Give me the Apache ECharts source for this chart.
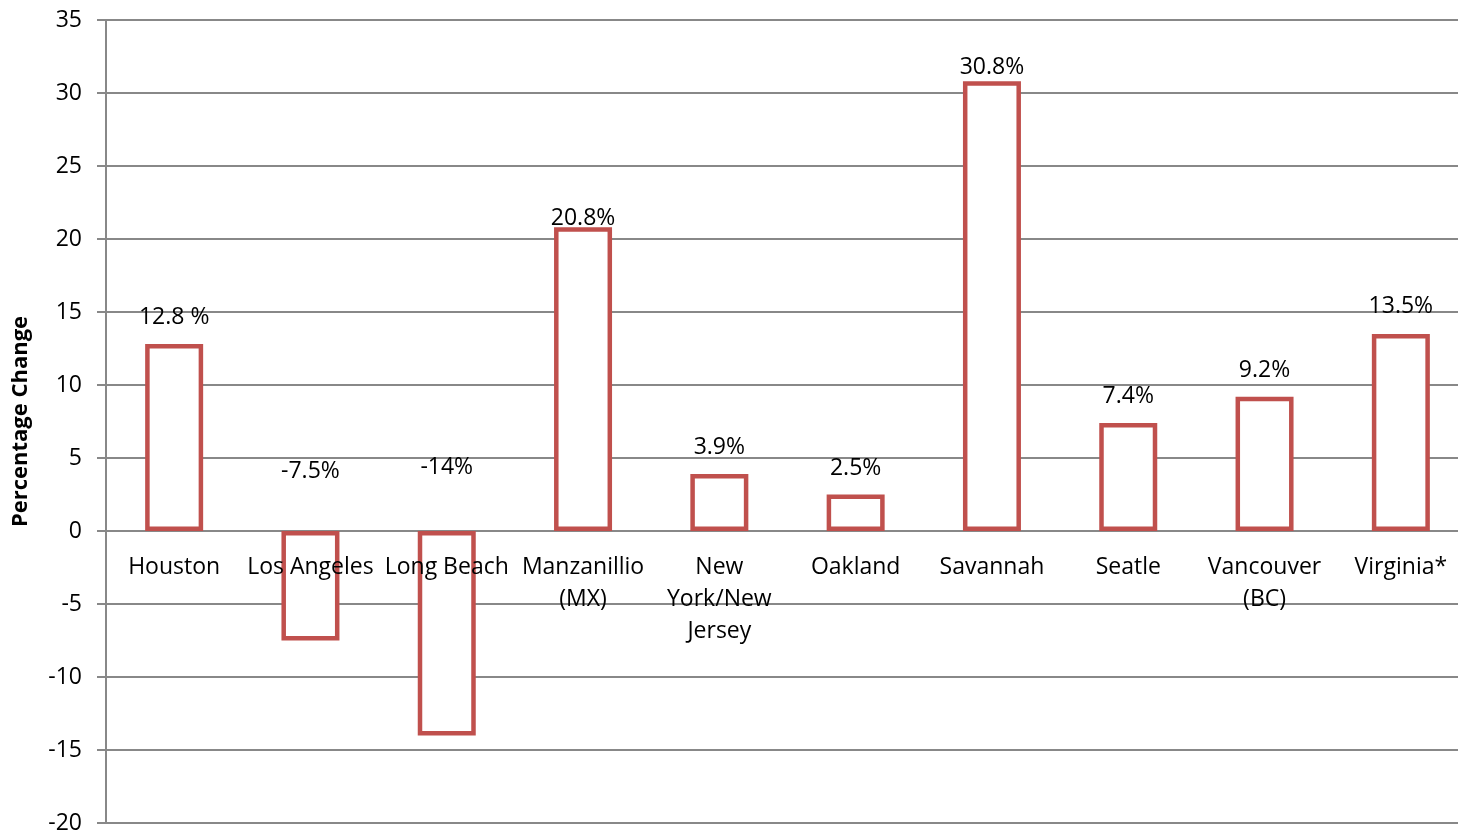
<!DOCTYPE html>
<html><head><meta charset="utf-8">
<script src="https://cdn.jsdelivr.net/npm/echarts@6/dist/echarts.min.js"></script>
<style>html,body{margin:0;padding:0;background:#fff}#c{width:1458px;height:835px}</style>
</head><body><div id="c"></div>
<script>
const categories = ['Houston','Los Angeles','Long Beach','Manzanillio\n(MX)','New\nYork/New\nJersey','Oakland','Savannah','Seatle','Vancouver\n(BC)','Virginia*'];
const values = [12.8, -7.5, -14, 20.8, 3.9, 2.5, 30.8, 7.4, 9.2, 13.5];
const valueLabels = ['12.8 %','-7.5%','-14%','20.8%','3.9%','2.5%','30.8%','7.4%','9.2%','13.5%'];
const labelOffsets = [[0,-10],[0,-43],[0,-47],[0,8],[0,-10],[0,-10],[0,3],[0,-10],[0,-10],[0,-11]];
const yTicks = {min:-20, max:35, interval:5};
const FONT = 'Open Sans';
const G = {left:106,right:-11,top:20,bottom:12};
const gridH = 835 - G.top - G.bottom;
const zeroOffset = -gridH * (0 - yTicks.min) / (yTicks.max - yTicks.min);
const chart = echarts.init(document.getElementById('c'));
chart.setOption({
  animation:false,
  grid:Object.assign({outerBoundsMode:'none',containLabel:false},G),
  xAxis:{type:'category',data:categories,z:5,position:'bottom',offset:zeroOffset,
    axisLine:{show:false,onZero:false},axisTick:{show:false},
    axisLabel:{color:'#000',fontFamily:FONT,fontSize:23,margin:20,lineHeight:32,interval:0}},
  yAxis:{type:'value',min:yTicks.min,max:yTicks.max,interval:yTicks.interval,
    name:'Percentage Change',nameLocation:'middle',nameGap:74,
    nameTextStyle:{color:'#000',fontFamily:FONT,fontSize:22,fontWeight:'bold'},
    axisLine:{show:true,lineStyle:{color:'#888',width:2}},
    axisTick:{show:true,length:9,lineStyle:{color:'#888',width:2}},
    axisLabel:{color:'#000',fontFamily:FONT,fontSize:23,margin:24},
    splitLine:{lineStyle:{color:'#888',width:2}}},
  series:[{type:'bar',barWidth:58,
    data:values.map((v,i)=>({value:v,label:{offset:labelOffsets[i]}})),
    itemStyle:{color:'#fff',borderColor:'#C0504D',borderWidth:4.5},
    label:{show:true,position:'top',color:'#000',fontFamily:FONT,fontSize:23,
      formatter:p=>valueLabels[p.dataIndex]}}]
});
</script></body></html>
